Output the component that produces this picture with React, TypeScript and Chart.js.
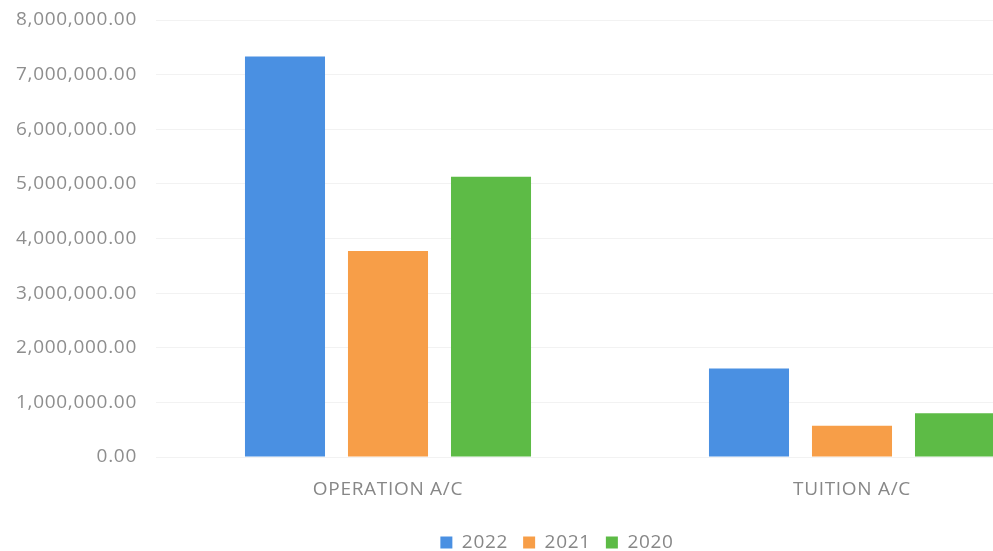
import React, { useEffect, useRef } from "react";
import { Chart, registerables } from "chart.js";

Chart.register(...registerables);

const categories = ["OPERATION A/C", "TUITION A/C"];
const seriesLabels = ["2022", "2021", "2020"];
const values2022 = [7330000, 1620000];
const values2021 = [3770000, 570000];
const values2020 = [5130000, 800000];
const colors = ["#4A90E2", "#F79E48", "#5DBB46"];
const yTickMax = 8000000;
const yTickStep = 1000000;

const FONT = "'Open Sans', 'Noto Sans', sans-serif";
const TEXT = "#878787";
const SPACING = "0.7px";

const legendTweak = {
  id: "legendTweak",
  beforeInit(chart: any) {
    const lg = chart.legend;
    if (!lg) return;
    const origFit = lg.fit.bind(lg);
    lg.fit = function () {
      origFit();
      this.height = 36;
    };
    const origDraw = lg.draw.bind(lg);
    lg.draw = function () {
      const s = 15;
      const t = 3;
      this.left += s;
      this.right += s;
      this.top += t;
      this.bottom += t;
      origDraw();
      this.left -= s;
      this.right -= s;
      this.top -= t;
      this.bottom -= t;
    };
  },
  beforeUpdate(chart: any) {
    (chart.ctx as any).letterSpacing = SPACING;
  },
  beforeDraw(chart: any) {
    (chart.ctx as any).letterSpacing = SPACING;
  },
};

export default function App() {
  const ref = useRef<HTMLCanvasElement | null>(null);
  useEffect(() => {
    if (!ref.current) return;
    const chart = new Chart(ref.current, {
      type: "bar",
      data: {
        labels: categories,
        datasets: [values2022, values2021, values2020].map((d, i) => ({
          label: seriesLabels[i],
          data: d,
          backgroundColor: colors[i],
          borderWidth: 0,
          categoryPercentage: 0.666,
          barPercentage: 0.777,
        })),
      },
      plugins: [legendTweak],
      options: {
        responsive: false,
        animation: false,
        devicePixelRatio: 1,
        layout: { padding: { top: 20, right: 30, left: 0, bottom: 0 } },
        plugins: {
          tooltip: { enabled: false },
          legend: {
            position: "bottom",
            labels: {
              boxWidth: 12,
              boxHeight: 12,
              padding: 15,
              color: TEXT,
              font: { family: FONT, size: 19 },
            },
          },
        },
        scales: {
          x: {
            grid: { display: false, drawTicks: false },
            border: { display: false },
            ticks: {
              padding: 21,
              color: TEXT,
              font: { family: FONT, size: 19 },
            },
            afterFit: (scale: any) => {
              scale.height = 58;
            },
          },
          y: {
            min: 0,
            max: yTickMax,
            grid: { color: "#f2f2f2", drawTicks: false },
            border: { display: false },
            ticks: {
              stepSize: yTickStep,
              padding: 19,
              color: "#8e8e8e",
              font: { family: FONT, size: 19 },
              callback: (v: any) =>
                Number(v).toLocaleString("en-US", {
                  minimumFractionDigits: 2,
                  maximumFractionDigits: 2,
                }),
            },
            afterFit: (scale: any) => {
              scale.width = 156;
              scale.paddingTop = 0;
              scale.paddingBottom = 0;
            },
          },
        },
      },
    });
    return () => chart.destroy();
  }, []);
  return (
    <div
      style={{
        position: "absolute",
        left: 0,
        top: 0,
        width: 993,
        height: 551,
        overflow: "hidden",
        background: "#fff",
      }}
    >
      <canvas ref={ref} width={1114} height={551} />
    </div>
  );
}
